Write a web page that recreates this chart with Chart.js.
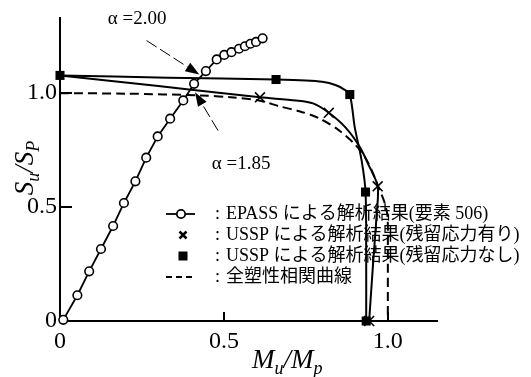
<!DOCTYPE html>
<html><head><meta charset="utf-8">
<script src="https://cdn.jsdelivr.net/npm/chart.js@4/dist/chart.umd.min.js"></script>
<style>html,body{margin:0;padding:0;background:#fff}#wrap{width:531px;height:377px;position:relative}</style>
</head><body><div id="wrap"><canvas id="c" width="531" height="377"></canvas></div>
<script>
// ---------- data ----------
const X_TICKS = [0, 0.5, 1.0];
const X_TICK_LABELS = ["0", "0.5", "1.0"];
const Y_TICKS = [0, 0.5, 1.0];
const Y_TICK_LABELS = ["0", "0.5", "1.0"];

// EPASS (element 506) — open circles
const EPASS_X = [0.01,0.053,0.089,0.125,0.162,0.195,0.23,0.263,0.298,0.336,0.376,0.409,0.445,0.478,0.501,0.523,0.546,0.564,0.581,0.598,0.618];
const EPASS_Y = [0.005,0.113,0.218,0.316,0.417,0.518,0.613,0.717,0.81,0.888,0.968,1.041,1.097,1.148,1.168,1.18,1.195,1.206,1.217,1.225,1.241];

// USSP with residual stress — curve and × marks
const RES_CURVE_X = [0, 0.2, 0.4, 0.61, 0.72, 0.772, 0.82, 0.872, 0.915, 0.942, 0.969, 0.966, 0.955, 0.943];
const RES_CURVE_Y = [1.078, 1.047, 1.015, 0.982, 0.968, 0.955, 0.914, 0.848, 0.763, 0.683, 0.591, 0.471, 0.252, 0];
const RES_MARK_X = [0.61, 0.82, 0.969, 0.943];
const RES_MARK_Y = [0.982, 0.914, 0.591, 0];

// USSP without residual stress — curve and filled squares
const NORES_CURVE_X = [0, 0.33, 0.659, 0.75, 0.8, 0.84, 0.866, 0.884, 0.899, 0.92, 0.932, 0.934, 0.934];
const NORES_CURVE_Y = [1.078, 1.068, 1.06, 1.056, 1.05, 1.036, 1.017, 0.994, 0.851, 0.705, 0.566, 0.28, 0];
const NORES_MARK_X = [0, 0.659, 0.884, 0.932, 0.934];
const NORES_MARK_Y = [1.078, 1.06, 0.994, 0.566, 0];

// Full plastic interaction curve (dashed)
const FP_X = [0, 0.2, 0.43, 0.52, 0.61, 0.67, 0.73, 0.79, 0.85, 0.9, 0.93, 0.955, 0.975, 0.99, 0.999, 1.0, 1.0];
const FP_Y = [1.0, 0.998, 0.99, 0.982, 0.967, 0.942, 0.921, 0.89, 0.838, 0.775, 0.72, 0.648, 0.575, 0.52, 0.46, 0.3, 0];

const LEGEND_LABELS = [
  "EPASS による解析結果(要素 506)",
  "USSP による解析結果(残留応力有り)",
  "USSP による解析結果(残留応力なし)",
  "全塑性相関曲線"
];

// annotations (data units)
const ANN_TEXT = ["α =2.00", "α =1.85"];
const ANN_TEXT_X = [0.146, 0.463];
const ANN_TEXT_Y = [1.325, 0.69];
const ANN_TAIL_X = [0.264, 0.482];
const ANN_TAIL_Y = [1.231, 0.836];
const ANN_TIP_X = [0.425, 0.412];
const ANN_TIP_Y = [1.082, 1.004];

const pts = (xs, ys) => xs.map((v, i) => ({x: v, y: ys[i]}));
const SERIF = '"Liberation Serif", "Times New Roman", serif';

function drawParts(ctx, parts, x0, base, big, small) {
  let x = x0;
  parts.forEach(([t, sub]) => {
    ctx.font = 'italic ' + (sub ? small : big) + 'px ' + SERIF;
    ctx.fillText(t, x, base + (sub ? 6 : 0));
    x += ctx.measureText(t).width;
  });
  return x - x0;
}
function partsWidth(ctx, parts, big, small) {
  let w = 0;
  parts.forEach(([t, sub]) => { ctx.font = 'italic ' + (sub ? small : big) + 'px ' + SERIF; w += ctx.measureText(t).width; });
  return w;
}

const decor = {
  id: 'decor',
  beforeDatasetsDraw(chart) {
    const {ctx, scales: {x, y}, chartArea: ca} = chart;
    ctx.save();
    ctx.strokeStyle = '#000'; ctx.lineWidth = 2;
    X_TICKS.forEach(v => { if (v === 0) return; const p = Math.round(x.getPixelForValue(v)); ctx.beginPath(); ctx.moveTo(p, ca.bottom); ctx.lineTo(p, ca.bottom - 9); ctx.stroke(); });
    Y_TICKS.forEach(v => { if (v === 0) return; const p = Math.round(y.getPixelForValue(v)); ctx.beginPath(); ctx.moveTo(ca.left, p); ctx.lineTo(ca.left + 12, p); ctx.stroke(); });
    ctx.restore();
  },
  afterDraw(chart) {
    const {ctx, scales: {x, y}} = chart;
    ctx.save();
    ctx.fillStyle = '#000'; ctx.strokeStyle = '#000';
    // axis titles
    ctx.textBaseline = 'alphabetic'; ctx.textAlign = 'left';
    const xt = [["M", 0], ["u", 1], ["/M", 0], ["p", 1]];
    drawParts(ctx, xt, 252, 368, 27, 18);
    const yt = [["S", 0], ["u", 1], ["/S", 0], ["P", 1]];
    const yw = partsWidth(ctx, yt, 27, 18);
    ctx.save();
    ctx.translate(33, 168); ctx.rotate(-Math.PI / 2);
    drawParts(ctx, yt, -yw / 2, 0, 27, 18);
    ctx.restore();

    // annotations
    ctx.font = '19px ' + SERIF; ctx.textBaseline = 'middle';
    ANN_TEXT.forEach((t, i) => {
      ctx.fillText(t, x.getPixelForValue(ANN_TEXT_X[i]), y.getPixelForValue(ANN_TEXT_Y[i]));
      const x1 = x.getPixelForValue(ANN_TAIL_X[i]), y1 = y.getPixelForValue(ANN_TAIL_Y[i]);
      const x2 = x.getPixelForValue(ANN_TIP_X[i]), y2 = y.getPixelForValue(ANN_TIP_Y[i]);
      const ang = Math.atan2(y2 - y1, x2 - x1);
      const L = 14, H = 5;
      const bx = x2 - L * Math.cos(ang), by = y2 - L * Math.sin(ang);
      ctx.save();
      ctx.lineWidth = 1; ctx.setLineDash([12, 4]);
      ctx.beginPath(); ctx.moveTo(x1, y1); ctx.lineTo(bx, by); ctx.stroke();
      ctx.setLineDash([]);
      ctx.beginPath();
      ctx.moveTo(x2, y2);
      ctx.lineTo(bx + H * Math.sin(ang), by - H * Math.cos(ang));
      ctx.lineTo(bx - H * Math.sin(ang), by + H * Math.cos(ang));
      ctx.closePath(); ctx.fill();
      ctx.restore();
    });

    // legend
    const rows = [214, 235, 256, 277];
    const sx = 181;
    ctx.lineWidth = 1.8;
    ctx.beginPath(); ctx.moveTo(166, rows[0]); ctx.lineTo(195, rows[0]); ctx.stroke();
    ctx.beginPath(); ctx.arc(sx, rows[0], 4.2, 0, Math.PI * 2); ctx.fillStyle = '#fff'; ctx.fill(); ctx.stroke();
    ctx.fillStyle = '#000';
    ctx.lineWidth = 2.5;
    ctx.beginPath(); ctx.moveTo(sx - 3.5 + 2, rows[1] - 3.5); ctx.lineTo(sx + 3.5 + 2, rows[1] + 3.5);
    ctx.moveTo(sx + 3.5 + 2, rows[1] - 3.5); ctx.lineTo(sx - 3.5 + 2, rows[1] + 3.5); ctx.stroke();
    ctx.fillRect(sx + 2 - 4.5, rows[2] - 4.5, 9, 9);
    ctx.lineWidth = 2; ctx.setLineDash([6, 4]);
    ctx.beginPath(); ctx.moveTo(166, rows[3]); ctx.lineTo(196, rows[3]); ctx.stroke();
    ctx.setLineDash([]);
    ctx.font = '18px "Liberation Serif", "Noto Sans CJK JP", serif';
    ctx.textBaseline = 'middle'; ctx.textAlign = 'left';
    LEGEND_LABELS.forEach((t, i) => {
      ctx.fillText(':', 215, rows[i]);
      ctx.fillText(t, 226, rows[i]);
    });
    ctx.restore();
  }
};

const tickFont = {family: SERIF, size: 24};

new Chart(document.getElementById('c'), {
  type: 'scatter',
  data: {
    datasets: [
      {label: 'EPASS', data: pts(EPASS_X, EPASS_Y), showLine: true, tension: 0, borderColor: '#000', borderWidth: 1.8,
       pointStyle: 'circle', pointRadius: 4.3, pointBackgroundColor: '#fff', pointBorderColor: '#000', pointBorderWidth: 1.6, clip: false, order: 0},
      {label: 'noresMarks', data: pts(NORES_MARK_X, NORES_MARK_Y), showLine: false, pointStyle: 'rect', pointRadius: 6.4,
       pointBackgroundColor: '#000', pointBorderColor: '#000', pointBorderWidth: 0, clip: false, order: 1},
      {label: 'resMarks', data: pts(RES_MARK_X, RES_MARK_Y), showLine: false, pointStyle: 'crossRot', pointRadius: 7,
       pointBorderColor: '#000', pointBorderWidth: 1.6, clip: false, order: 2},
      {label: 'resCurve', data: pts(RES_CURVE_X, RES_CURVE_Y), showLine: true, tension: 0.3, borderColor: '#000', borderWidth: 2,
       pointRadius: 0, clip: false, order: 3},
      {label: 'noresCurve', data: pts(NORES_CURVE_X, NORES_CURVE_Y), showLine: true, tension: 0.3, borderColor: '#000', borderWidth: 2,
       pointRadius: 0, clip: false, order: 4},
      {label: 'fp', data: pts(FP_X, FP_Y), showLine: true, tension: 0.3, borderColor: '#000', borderWidth: 2, borderDash: [9, 5],
       pointRadius: 0, clip: false, order: 5}
    ]
  },
  options: {
    responsive: false, animation: false, devicePixelRatio: 1, events: [],
    layout: {padding: {top: 18, right: 94, left: 0, bottom: 0}},
    plugins: {legend: {display: false}, tooltip: {enabled: false}},
    scales: {
      x: {type: 'linear', min: 0, max: 1.15,
          grid: {display: false, drawTicks: false}, border: {display: true, color: '#000', width: 2},
          afterBuildTicks: s => { s.ticks = X_TICKS.map(v => ({value: v})); },
          afterFit: s => { s.height = 56; },
          ticks: {color: '#000', font: tickFont, padding: 6, maxRotation: 0, autoSkip: false,
                  callback: v => X_TICK_LABELS[X_TICKS.indexOf(v)]}},
      y: {type: 'linear', min: 0, max: 1.33,
          grid: {display: false, drawTicks: false}, border: {display: true, color: '#000', width: 2},
          afterBuildTicks: s => { s.ticks = Y_TICKS.map(v => ({value: v})); },
          afterFit: s => { s.width = 60; },
          ticks: {color: '#000', font: tickFont, padding: 3, autoSkip: false,
                  callback: v => Y_TICK_LABELS[Y_TICKS.indexOf(v)]}}
    }
  },
  plugins: [decor]
});
</script>
</body></html>
